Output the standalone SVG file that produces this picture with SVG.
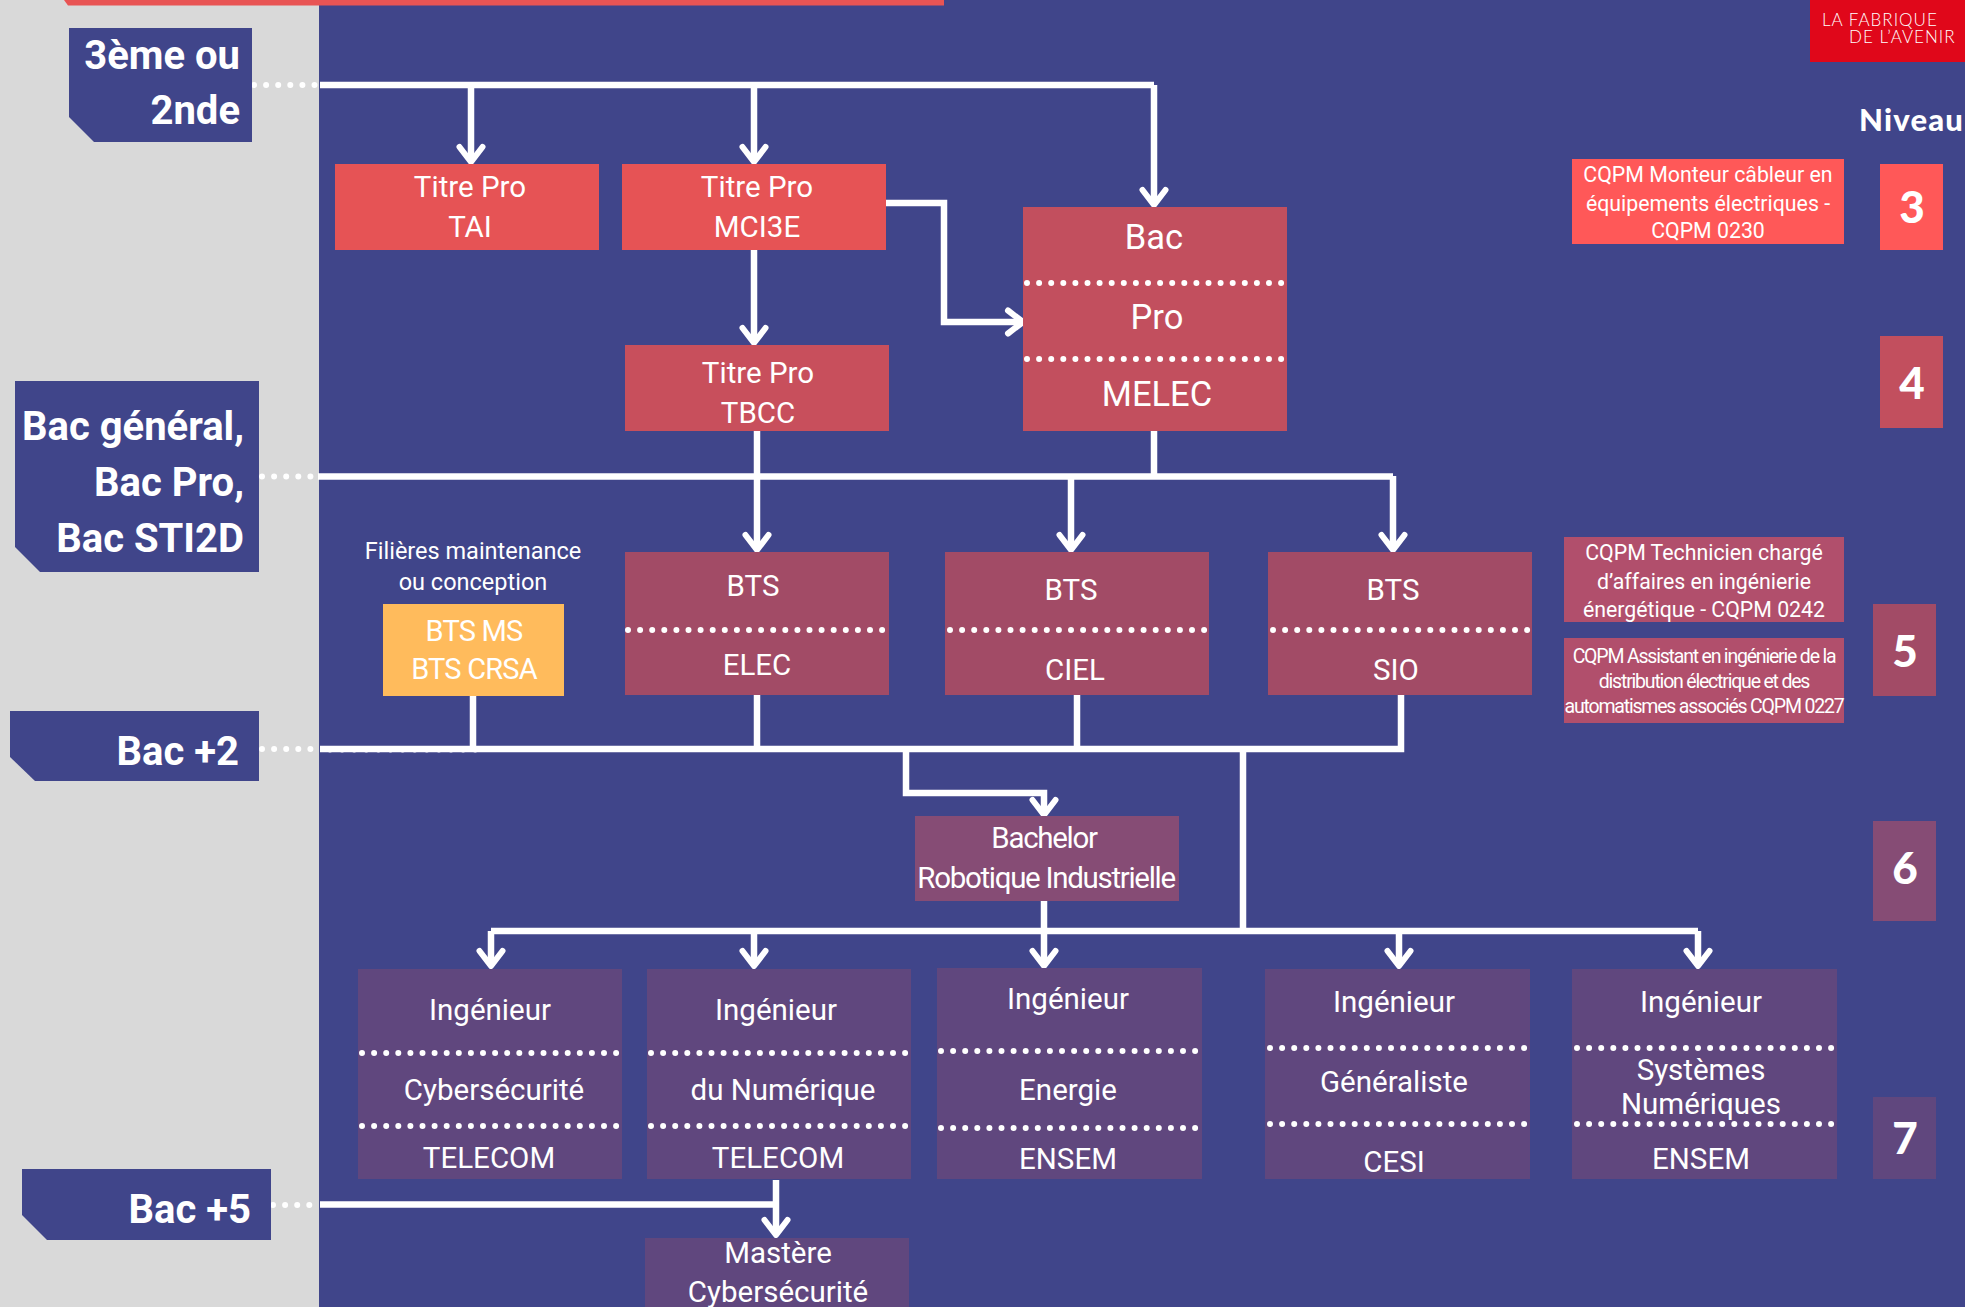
<svg xmlns="http://www.w3.org/2000/svg" width="1965" height="1307" viewBox="0 0 1965 1307">
<defs>
<marker id="ah" markerUnits="userSpaceOnUse" markerWidth="30" markerHeight="30" refX="17" refY="10" orient="auto" overflow="visible"><path d="M2 -1.500 L17 10 L2 21.500" fill="none" stroke="#fff" stroke-width="6" stroke-linecap="round" stroke-linejoin="round"/></marker>
</defs>
<style>
text{font-family:Roboto,"Liberation Sans",sans-serif;fill:#fff;text-anchor:middle}
.t{font-size:29.500px}
.b{font-size:34.500px}
.y{font-size:29px;letter-spacing:-.8px}
.l{font-size:40px;font-weight:700;text-anchor:end}
.c{font-size:21.300px}
.d{font-size:19.500px;letter-spacing:-1.200px}
.f{font-size:23.500px}
.n{font-family:Lato,sans-serif;font-weight:900;font-size:44px}
.w{fill:none;stroke:#fff;stroke-width:6.500}
.a{marker-end:url(#ah)}
.dot{fill:none;stroke:#fff;stroke-width:6;stroke-linecap:round;stroke-dasharray:0 12.100}
</style>
<rect width="1965" height="1307" fill="#d9d9d9"/>
<rect x="319" width="1646" height="1307" fill="#40458a"/>
<path d="M64 0H944V5.500H68Z" fill="#e85454"/>
<g id="connectors">
<path class="w" d="M320 85H1154"/><path class="w a" d="M471 85V162"/><path class="w a" d="M754 85V162"/><path class="w a" d="M1154 85V205"/>
<path class="w a" d="M754 250V343"/><path class="w a" d="M886 203H944V322H1023"/>
<path class="w" d="M318 476.500H1393"/><path class="w" d="M1154 431V476"/><path class="w a" d="M757 431V550"/><path class="w a" d="M1071 476V550"/><path class="w a" d="M1393 476V550"/>
<path class="w" d="M320 749H1401V695"/><path class="w" d="M473 696V749"/><path class="w" d="M757 695V749"/><path class="w" d="M1077 695V749"/>
<path class="w a" d="M906 749V793H1044V815"/><path class="w" d="M1243 749V931"/>
<path class="w" d="M491 931H1698"/><path class="w a" d="M491 931V966"/><path class="w a" d="M754 931V966"/><path class="w a" d="M1044 901V966"/><path class="w a" d="M1399 931V966"/><path class="w a" d="M1698 931V966"/>
<path class="w" d="M320 1204.500H776"/><path class="w a" d="M776 1180V1235"/>
<path class="dot" d="M254 85H318"/><path class="dot" d="M262 476.500H318"/><path class="dot" d="M262 749H318"/><path class="dot" d="M273 1205H318"/><path class="dot" d="M330 749.500H480"/>
</g>
<g id="n-3eme"><path d="M69 28H252V142H94L69 117Z" fill="#40458a"/><text class="l" x="240" y="69">3ème ou</text><text class="l" x="240" y="124">2nde</text></g>
<g id="n-bacgen"><path d="M15 381H259V572H40L15 547Z" fill="#40458a"/><text class="l" x="244" y="440">Bac général,</text><text class="l" x="244" y="496">Bac Pro,</text><text class="l" x="244" y="552">Bac STI2D</text></g>
<g id="n-bac2"><path d="M10 711H259V781H35L10 757Z" fill="#40458a"/><text class="l" x="239" y="765">Bac +2</text></g>
<g id="n-bac5"><path d="M22 1169H271V1240H47L22 1215Z" fill="#40458a"/><text class="l" x="251" y="1223">Bac +5</text></g>
<g id="n-tai"><rect x="335" y="164" width="264" height="86" fill="#e65355"/><text class="t" x="470" y="197">Titre Pro</text><text class="t" x="470" y="237">TAI</text></g>
<g id="n-mci"><rect x="622" y="164" width="264" height="86" fill="#e65355"/><text class="t" x="757" y="197">Titre Pro</text><text class="t" x="757" y="237">MCI3E</text></g>
<g id="n-tbcc"><rect x="625" y="345" width="264" height="86" fill="#c84f5c"/><text class="t" x="758" y="383">Titre Pro</text><text class="t" x="758" y="423">TBCC</text></g>
<g id="n-bacpro"><rect x="1023" y="207" width="264" height="224" fill="#c24f5e"/><text class="b" x="1154" y="249">Bac</text><text class="b" x="1157" y="329">Pro</text><text class="b" x="1157" y="406">MELEC</text><path class="dot" d="M1027 283H1284"/><path class="dot" d="M1027 359H1284"/></g>
<g id="n-filieres"><text class="f" x="473" y="559">Filières maintenance</text><text class="f" x="473" y="590">ou conception</text></g>
<g id="n-btsms"><rect x="383" y="604" width="181" height="92" fill="#ffbb5c"/><text class="y" x="474" y="641">BTS MS</text><text class="y" x="474" y="679">BTS CRSA</text></g>
<g id="n-elec"><rect x="625" y="552" width="264" height="143" fill="#a24b66"/><text class="t" x="753" y="596">BTS</text><text class="t" x="757" y="675">ELEC</text><path class="dot" d="M628 630H886"/></g>
<g id="n-ciel"><rect x="945" y="552" width="264" height="143" fill="#a24b66"/><text class="t" x="1071" y="600">BTS</text><text class="t" x="1075" y="680">CIEL</text><path class="dot" d="M950 630H1207"/></g>
<g id="n-sio"><rect x="1268" y="552" width="264" height="143" fill="#a24b66"/><text class="t" x="1393" y="600">BTS</text><text class="t" x="1396" y="680">SIO</text><path class="dot" d="M1273 630H1530"/></g>
<g id="n-bachelor"><rect x="915" y="816" width="264" height="85" fill="#864c75"/><text class="t" x="1044" y="848" letter-spacing="-1.300">Bachelor</text><text class="t" x="1046" y="888" letter-spacing="-1.300">Robotique Industrielle</text></g>
<g id="n-ing1"><rect x="358" y="969" width="264" height="210" fill="#60477e"/><text class="t" x="490" y="1020">Ingénieur</text><text class="t" x="494" y="1100">Cybersécurité</text><text class="t" x="489" y="1168">TELECOM</text><path class="dot" d="M362 1053H619"/><path class="dot" d="M362 1126H619"/></g>
<g id="n-ing2"><rect x="647" y="969" width="264" height="210" fill="#60477e"/><text class="t" x="776" y="1020">Ingénieur</text><text class="t" x="783" y="1100">du Numérique</text><text class="t" x="778" y="1168">TELECOM</text><path class="dot" d="M651 1053H908"/><path class="dot" d="M651 1126H908"/></g>
<g id="n-ing3"><rect x="937" y="968" width="265" height="211" fill="#60477e"/><text class="t" x="1068" y="1009">Ingénieur</text><text class="t" x="1068" y="1100">Energie</text><text class="t" x="1068" y="1169">ENSEM</text><path class="dot" d="M941 1051H1198"/><path class="dot" d="M941 1128H1198"/></g>
<g id="n-ing4"><rect x="1265" y="969" width="265" height="210" fill="#60477e"/><text class="t" x="1394" y="1012">Ingénieur</text><text class="t" x="1394" y="1092">Généraliste</text><text class="t" x="1394" y="1172">CESI</text><path class="dot" d="M1270 1048H1527"/><path class="dot" d="M1270 1124H1527"/></g>
<g id="n-ing5"><rect x="1572" y="969" width="265" height="210" fill="#60477e"/><text class="t" x="1701" y="1012">Ingénieur</text><text class="t" x="1701" y="1080">Systèmes</text><text class="t" x="1701" y="1114">Numériques</text><text class="t" x="1701" y="1169">ENSEM</text><path class="dot" d="M1577 1048H1834"/><path class="dot" d="M1577 1124H1834"/></g>
<g id="n-mastere"><rect x="645" y="1238" width="264" height="69" fill="#60477e"/><text class="t" x="778" y="1263">Mastère</text><text class="t" x="778" y="1302">Cybersécurité</text></g>
<g id="n-logo"><rect x="1810" width="155" height="62" fill="#e0071a"/><text x="1822" y="26" font-size="17" letter-spacing="1" style="font-family:Lato,sans-serif;font-weight:300;text-anchor:start">LA FABRIQUE</text><text x="1849" y="43" font-size="17" letter-spacing="1" style="font-family:Lato,sans-serif;font-weight:300;text-anchor:start">DE L’AVENIR</text></g>
<g id="n-niveau"><text x="1859" y="131" font-size="31" letter-spacing="1.200" style="font-family:Lato,sans-serif;font-weight:900;text-anchor:start">Niveau</text></g>
<g id="n-c1"><rect x="1572" y="159" width="272" height="85" fill="#ff5858"/><text class="c" x="1708" y="182">CQPM Monteur câbleur en</text><text class="c" x="1708" y="211">équipements électriques -</text><text class="c" x="1708" y="238">CQPM 0230</text></g>
<g id="n-c2"><rect x="1564" y="537" width="280" height="85" fill="#b14f6c"/><text class="c" x="1704" y="560">CQPM Technicien chargé</text><text class="c" x="1704" y="589">d’affaires en ingénierie</text><text class="c" x="1704" y="617">énergétique - CQPM 0242</text></g>
<g id="n-c3"><rect x="1564" y="638" width="280" height="85" fill="#b14f6c"/><text class="d" x="1704" y="663">CQPM Assistant en ingénierie de la</text><text class="d" x="1704" y="688">distribution électrique et des</text><text class="d" x="1704" y="713">automatismes associés CQPM 0227</text></g>
<g id="n-l3"><rect x="1880" y="164" width="63" height="86" fill="#ff5858"/><text class="n" x="1912" y="223">3</text></g>
<g id="n-l4"><rect x="1880" y="336" width="63" height="92" fill="#c24f5e"/><text class="n" x="1912" y="399">4</text></g>
<g id="n-l5"><rect x="1873" y="604" width="63" height="92" fill="#a24b66"/><text class="n" x="1905" y="667">5</text></g>
<g id="n-l6"><rect x="1873" y="821" width="63" height="100" fill="#864c75"/><text class="n" x="1905" y="884">6</text></g>
<g id="n-l7"><rect x="1873" y="1097" width="63" height="82" fill="#60477e"/><text class="n" x="1905" y="1154">7</text></g>
</svg>
